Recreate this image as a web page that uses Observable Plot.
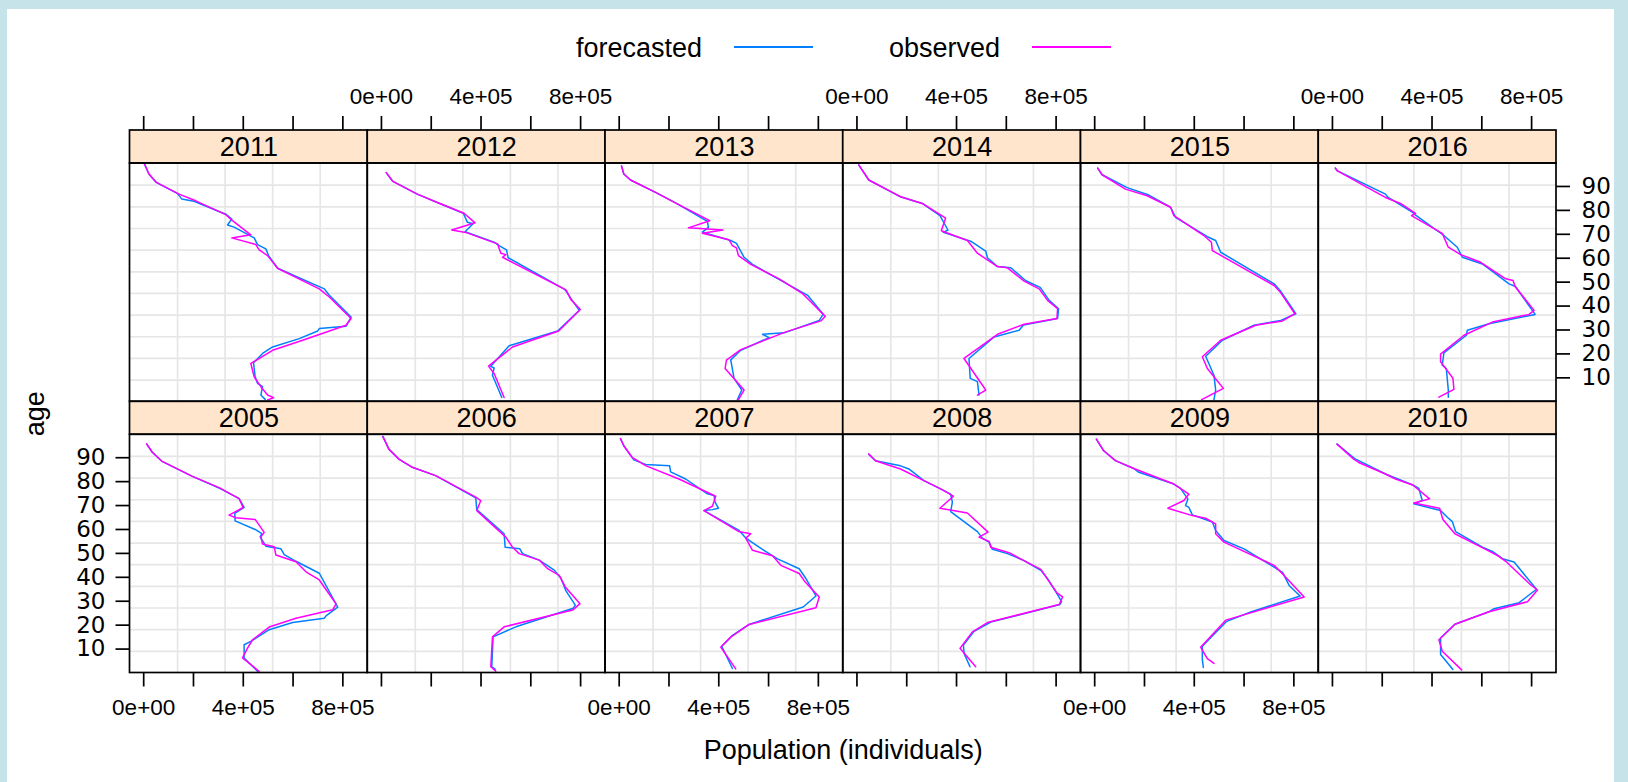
<!DOCTYPE html>
<html>
<head>
<meta charset="utf-8">
<script src="https://cdn.jsdelivr.net/npm/d3@7"></script>
<script src="https://cdn.jsdelivr.net/npm/@observablehq/plot@0.6"></script>
<style>
html, body { margin: 0; padding: 0; }
body { width: 1628px; height: 782px; background: #c5e3e8; position: relative; overflow: hidden;
       font-family: "Liberation Sans", Arial, sans-serif; }
#sheet { position: absolute; left: 7px; top: 9px; width: 1607px; height: 773px; background: #ffffff; }
#chart { position: absolute; left: 0; top: 0; }
.key { position: absolute; font-size: 27px; line-height: 27px; color: #000; white-space: nowrap; }
.keyline { position: absolute; height: 1.7px; width: 79px; }
</style>
</head>
<body>
<div id="sheet"></div>
<div class="key" style="left:576px; top:34.6px">forecasted</div>
<div class="keyline" style="left:734px; top:46px; background:#0080ff"></div>
<div class="key" style="left:889px; top:34.6px">observed</div>
<div class="keyline" style="left:1032px; top:46px; background:#ff00ff"></div>
<div id="chart"></div>
<script>
// ---------------- data (age, population) ----------------
const years = [2005, 2006, 2007, 2008, 2009, 2010, 2011, 2012, 2013, 2014, 2015, 2016];
const xTickValues = [0, 200000, 400000, 600000, 800000];
const xLabelValues = [0, 400000, 800000];
const xLabelTexts = ["0e+00", "4e+05", "8e+05"];
const ageTickValues = [10, 20, 30, 40, 50, 60, 70, 80, 90];
const seriesNames = ["forecasted", "observed"];
const seriesColors = ["#0080ff", "#ff00ff"];

const obs2005 = [[95.8,11700],[92.3,34600],[88.6,72100],[82.2,195700],[77.5,302800],[72.9,383300],[69.2,399400],[66.0,343000],[64.9,370000],[64.2,447700],[58.8,484000],[56.9,470600],[53.9,477500],[52.8,524200],[49.3,531000],[46.5,611600],[42.3,651800],[38.9,705400],[28.9,772600],[26.4,759300],[22.9,611600],[19.2,504100],[13.9,437200],[10.4,417100],[6.3,397000],[0.7,463800]];
const fc2005 = [[95.8,11700],[92.3,34600],[88.6,72100],[82.2,195700],[77.0,310000],[72.9,383300],[69.2,403400],[66.7,366000],[63.6,367200],[60.0,447700],[58.3,474700],[56.9,467900],[53.0,490800],[51.9,551200],[49.5,564500],[46.7,611600],[41.7,705400],[27.5,779400],[23.9,732300],[22.9,725500],[21.1,598300],[18.1,504100],[13.2,430400],[11.8,403400],[6.3,403400],[0.7,457300]];

const obs2006 = [[98.9,5600],[93.6,29800],[89.4,70000],[86.0,124000],[82.5,217800],[73.5,378800],[72.1,399000],[67.9,382900],[56.8,499600],[52.6,526600],[49.9,553200],[47.2,633700],[43.6,667500],[40.8,714200],[36.0,738400],[29.0,797500],[26.3,768200],[19.3,492800],[15.1,446100],[2.6,439200],[0.8,459400]];
const fc2006 = [[98.9,5600],[93.6,29800],[89.4,70000],[86.0,124000],[82.5,217800],[73.2,378800],[68.3,382900],[58.2,492800],[52.6,496800],[51.9,556000],[49.9,566900],[47.2,633700],[43.0,694100],[39.6,721000],[34.3,741200],[28.4,778600],[27.1,770600],[19.3,539900],[15.1,448500],[2.6,443100],[1.6,456500]];

const obs2007 = [[98.0,5200],[95.0,18500],[90.1,52300],[86.7,105900],[81.1,240000],[73.9,387700],[69.7,374400],[67.9,340600],[59.2,479100],[58.2,528600],[56.4,508500],[51.3,535400],[49.0,616000],[45.0,649400],[41.6,723100],[38.0,747200],[31.8,803600],[27.3,790300],[20.3,521800],[15.0,448100],[10.8,407800],[1.7,468200]];
const fc2007 = [[98.0,5200],[95.0,18500],[89.1,58800],[87.2,105900],[86.6,202500],[84.1,206500],[81.1,266900],[74.9,354300],[74.2,380900],[71.4,384900],[68.9,398600],[68.3,374400],[67.9,340600],[59.6,481500],[56.4,508500],[52.6,562000],[47.7,636100],[43.6,723100],[39.5,750000],[32.2,790300],[27.6,739200],[20.3,521800],[15.5,452100],[11.2,411900],[1.9,454900]];

const obs2008 = [[91.5,47500],[88.7,74500],[85.3,175100],[80.4,268900],[77.0,336200],[73.9,387300],[68.9,333400],[66.9,443700],[58.9,526600],[56.8,490400],[55.0,530700],[52.6,537500],[50.3,611200],[47.1,669000],[43.3,738800],[33.5,803200],[31.8,826100],[28.6,812500],[21.1,524200],[17.2,463800],[10.3,413900],[2.6,477100]];
const fc2008 = [[91.5,47500],[88.7,74500],[86.6,175100],[85.3,208500],[80.4,268900],[77.0,336200],[74.8,376400],[71.4,383300],[67.5,376400],[59.1,483900],[56.4,504100],[54.7,530700],[51.7,544300],[49.9,604700],[47.1,669000],[42.9,738800],[39.4,765700],[33.9,799200],[29.8,822100],[28.6,815000],[21.3,537500],[17.4,470400],[11.7,427600],[8.2,430300],[2.6,454100]];

const obs2009 = [[97.8,6800],[92.9,36200],[88.8,83300],[85.5,157000],[79.0,318100],[74.8,378400],[72.1,358300],[68.9,293900],[65.8,392100],[64.7,445700],[62.3,485900],[58.2,485900],[54.7,519400],[45.0,720700],[40.8,760900],[31.8,841400],[22.1,526200],[10.8,425500],[6.0,452500],[4.0,479100]];
const fc2009 = [[97.8,6800],[92.9,36200],[88.8,83300],[85.5,157000],[83.9,177100],[79.0,318100],[77.2,345000],[72.7,374400],[70.0,365100],[69.2,378400],[66.1,392100],[63.1,472600],[59.6,485900],[55.4,519400],[51.9,599900],[42.1,754500],[36.6,781000],[32.2,825300],[25.5,626800],[21.6,530200],[11.2,432400],[5.7,432400],[2.3,436400]];

const obs2010 = [[95.7,18500],[89.4,85400],[88.0,105500],[83.2,213000],[81.1,253200],[78.6,322900],[72.8,390100],[71.1,326900],[68.9,430400],[64.2,443700],[58.2,492000],[51.7,615600],[48.9,666700],[46.7,696100],[36.8,796700],[34.7,823700],[29.8,783500],[25.6,628900],[20.4,492000],[13.9,427600],[9.1,441200],[1.3,518900]];
const fc2010 = [[95.7,18500],[89.6,89400],[83.2,213000],[78.6,322900],[77.2,347000],[72.1,360700],[70.7,326900],[67.9,434400],[65.1,461400],[63.3,481500],[59.1,494800],[52.6,602300],[50.8,642600],[47.8,682800],[46.4,729500],[35.0,819700],[29.4,749700],[26.9,649000],[25.6,628900],[20.4,492000],[14.6,434400],[7.7,434400],[1.5,483900]];

const obs2011 = [[99.3,3600],[95.2,21000],[91.7,50700],[86.8,141700],[84.0,209000],[78.2,329700],[75.7,356700],[69.8,430400],[68.5,353900],[65.7,450500],[63.5,463800],[61.1,497600],[55.8,537900],[47.2,705400],[43.8,745600],[34.8,833000],[32.0,812800],[25.7,638500],[21.5,517700],[16.0,430400],[10.4,443800],[6.3,470600],[2.8,497600],[1.7,521700],[0.8,497600]];
const fc2011 = [[99.3,3600],[95.2,21000],[91.7,50700],[87.1,135200],[84.8,152600],[83.8,202200],[78.4,329700],[76.4,353900],[73.9,336600],[73.0,363200],[68.5,443700],[65.7,457300],[63.9,490800],[61.1,501600],[55.8,537900],[47.2,725500],[44.5,745600],[35.4,833000],[31.6,812800],[30.6,705400],[29.6,698900],[26.4,624900],[22.9,517700],[20.2,477500],[16.3,441200],[10.4,447700],[7.7,457300],[6.3,477500],[2.8,470600],[1.0,488000]];

const obs2012 = [[95.8,19300],[92.1,45900],[86.8,144100],[83.3,224600],[78.8,331700],[74.8,376000],[71.8,282200],[70.8,338600],[66.0,466200],[62.1,479500],[61.5,499600],[60.4,486300],[46.8,741200],[42.7,761300],[38.6,798800],[29.6,711800],[22.9,526600],[14.9,430000],[11.8,452500],[1.8,492800]];
const fc2012 = [[95.8,19300],[92.1,45900],[86.8,144100],[83.3,224600],[78.8,329000],[75.0,345400],[74.4,368000],[71.1,335800],[66.7,452500],[65.3,472700],[63.5,502400],[60.2,508900],[47.1,734300],[46.1,743000],[43.1,761300],[38.2,794700],[29.6,707700],[23.4,513000],[14.8,439200],[14.1,452500],[11.1,445800],[1.8,483500]];

const obs2013 = [[98.6,9300],[95.2,18500],[92.7,45500],[87.5,146100],[82.7,233500],[75.7,363500],[72.7,277800],[71.8,417100],[70.4,334200],[67.7,441200],[65.3,454900],[64.3,471000],[61.1,479100],[57.4,528600],[51.4,642600],[45.2,736800],[42.4,763300],[35.7,827800],[33.8,810400],[29.2,669500],[21.8,488300],[17.4,430800],[13.9,425400],[4.9,501600],[0.9,479100]];
const fc2013 = [[98.6,9300],[95.2,18500],[92.7,45500],[87.5,146100],[82.7,233500],[75.4,354300],[72.9,358300],[70.9,334200],[67.4,448100],[66.2,471000],[60.4,501600],[57.4,535400],[44.5,756900],[36.6,819700],[34.0,803600],[28.8,662700],[28.2,575700],[26.8,602300],[21.5,488300],[17.5,448100],[9.8,461400],[4.9,492400],[0.9,474700]];

const obs2014 = [[99.0,7200],[92.7,47600],[87.5,141700],[85.7,175100],[82.9,262400],[76.8,356300],[71.5,338900],[67.4,443700],[62.1,483900],[56.5,564500],[56.0,604700],[50.4,671500],[47.2,732000],[42.4,765700],[38.9,805900],[34.8,803200],[32.4,671500],[28.2,564500],[18.1,430000],[4.9,517300],[2.8,483900]];
const fc2014 = [[99.0,7200],[92.7,47600],[87.5,141700],[85.7,175100],[82.9,262400],[77.8,333400],[71.8,365600],[70.8,347000],[67.1,456900],[63.0,517300],[60.2,524200],[56.5,564500],[56.0,618000],[50.6,678400],[47.8,736000],[42.4,772200],[38.9,810000],[34.8,806000],[32.1,669000],[29.9,651500],[27.1,550800],[18.1,450000],[9.8,455000],[8.4,483900],[2.8,490400]];

const obs2015 = [[97.7,12100],[94.9,29800],[88.9,123600],[86.1,211000],[81.3,304800],[77.8,318100],[69.5,438800],[66.7,468600],[63.2,472600],[48.6,720700],[45.9,744800],[36.8,804000],[33.8,754500],[32.0,647000],[25.7,506100],[18.8,432400],[13.9,452500],[10.8,476700],[5.6,516900],[0.9,429600]];
const fc2015 = [[97.7,12100],[94.9,29800],[89.5,130400],[86.4,217400],[81.3,304800],[77.1,324900],[69.0,452500],[67.4,485900],[62.5,506100],[49.3,720700],[46.5,744800],[36.8,808000],[34.0,747600],[32.0,640100],[25.7,512900],[19.0,445700],[11.1,479100],[4.9,485900],[0.9,479100]];

const obs2016 = [[97.7,11700],[96.6,18500],[89.6,139300],[85.4,213000],[82.9,273400],[78.8,333800],[77.8,317600],[70.4,441200],[64.6,465400],[61.5,514900],[58.3,595400],[51.4,696100],[50.7,725500],[48.2,733500],[38.2,810000],[36.5,789900],[33.3,642600],[27.8,528200],[19.9,434400],[16.7,434400],[13.0,461400],[9.8,483900],[5.2,488000],[1.9,427600]];
const fc2016 = [[97.7,11700],[96.6,18500],[86.8,213000],[85.4,223800],[79.3,320500],[78.3,330000],[69.5,447700],[64.6,501600],[60.4,521800],[57.6,602300],[49.3,709400],[48.2,735000],[36.5,814100],[32.6,628900],[29.9,541900],[27.8,537900],[20.4,447700],[15.3,441200],[13.9,457300],[4.9,465400],[1.9,465400]];

// ---------------- assemble ----------------
const forecastedSeries = [fc2005, fc2006, fc2007, fc2008, fc2009, fc2010, fc2011, fc2012, fc2013, fc2014, fc2015, fc2016];
const observedSeries = [obs2005, obs2006, obs2007, obs2008, obs2009, obs2010, obs2011, obs2012, obs2013, obs2014, obs2015, obs2016];

const panels = years.map(year => ({year, col: (year - 2005) % 6, row: year >= 2011 ? 0 : 1}));
const rows = [];
years.forEach((year, i) => {
  const p = panels[i];
  [forecastedSeries[i], observedSeries[i]].forEach((arr, s) => {
    arr.forEach(([age, pop]) => rows.push({year, col: p.col, row: p.row, series: seriesNames[s], age, pop}));
  });
});

// layout
const W = 1628, H = 782;
const mL = 129.5, mR = 72, mT = 130, mB = 109.5;
const xDomain = [-55000, 900000];
const panelTopAge = 99.6;
const facetW = (W - mL - mR) / 6;
const facetH = (H - mT - mB) / 2;
const stripPx = 33;
const stripTop = panelTopAge * facetH / (facetH - stripPx);
const xPerPx = (xDomain[1] - xDomain[0]) / facetW;
const yPerPx = stripTop / facetH;
const tickLen = 14;
const xMid = (xDomain[0] + xDomain[1]) / 2;

const gridX = [1, 2, 3, 4].map(k => xDomain[0] + k * (xDomain[1] - xDomain[0]) / 5);
const gridY = [1, 2, 3, 4, 5, 6, 7, 8, 9, 10].map(k => k * panelTopAge / 11);

const cols = [0, 1, 2, 3, 4, 5];
const topTicks = cols.flatMap(c => xTickValues.map(v => ({col: c, row: 0, v})));
const bottomTicks = cols.flatMap(c => xTickValues.map(v => ({col: c, row: 1, v})));
const topLabels = [1, 3, 5].flatMap(c => xLabelValues.map((v, i) => ({col: c, row: 0, v, label: xLabelTexts[i]})));
const bottomLabels = [0, 2, 4].flatMap(c => xLabelValues.map((v, i) => ({col: c, row: 1, v, label: xLabelTexts[i]})));
const leftTicks = ageTickValues.map(v => ({col: 0, row: 1, v}));
const rightTicks = ageTickValues.map(v => ({col: 5, row: 0, v}));

const tickFont = 22.5;
const ageFont = 23;
const ageFamily = "'DejaVu Sans', 'Liberation Sans', Arial, sans-serif";
const black = "#000000";

const chart = Plot.plot({
  width: W, height: H,
  marginLeft: mL, marginRight: mR, marginTop: mT, marginBottom: mB,
  style: {background: "transparent", fontFamily: "'Liberation Sans', Arial, sans-serif", overflow: "visible", color: "#000"},
  fx: {domain: cols, padding: 0, round: false, axis: null},
  fy: {domain: [0, 1], padding: 0, round: false, axis: null},
  x: {domain: xDomain, axis: null},
  y: {domain: [0, stripTop], axis: null},
  marks: [
    // grid
    Plot.ruleX(gridX, {x: d => d, y1: 0, y2: panelTopAge, stroke: "#e6e6e6", strokeWidth: 1.7}),
    Plot.ruleY(gridY, {y: d => d, x1: xDomain[0], x2: xDomain[1], stroke: "#e6e6e6", strokeWidth: 1.7}),
    // data lines
    Plot.line(rows.filter(d => d.series === "forecasted"), {x: "pop", y: "age", z: "year", fx: "col", fy: "row", stroke: seriesColors[0], strokeWidth: 1.5}),
    Plot.line(rows.filter(d => d.series === "observed"), {x: "pop", y: "age", z: "year", fx: "col", fy: "row", stroke: seriesColors[1], strokeWidth: 1.5}),
    // strips
    Plot.rect([0], {x1: xDomain[0], x2: xDomain[1], y1: panelTopAge, y2: stripTop, fill: "#ffe5cc", stroke: black, strokeWidth: 1.7}),
    Plot.text(panels, {x: xMid, y: (panelTopAge + stripTop) / 2, text: d => String(d.year), fx: "col", fy: "row", fontSize: 27, fill: black}),
    // panel frame
    Plot.rect([0], {x1: xDomain[0], x2: xDomain[1], y1: 0, y2: panelTopAge, fill: "none", stroke: black, strokeWidth: 1.7}),
    // x axis ticks + labels
    Plot.ruleX(topTicks, {x: "v", y1: stripTop, y2: stripTop + tickLen * yPerPx, fx: "col", fy: "row", stroke: black, strokeWidth: 1.7}),
    Plot.ruleX(bottomTicks, {x: "v", y1: 0, y2: -tickLen * yPerPx, fx: "col", fy: "row", stroke: black, strokeWidth: 1.7}),
    Plot.text(topLabels, {x: "v", y: stripTop, dy: -34, text: "label", fx: "col", fy: "row", fontSize: tickFont, fill: black}),
    Plot.text(bottomLabels, {x: "v", y: 0, dy: 34.5, text: "label", fx: "col", fy: "row", fontSize: tickFont, fill: black}),
    // y axis ticks + labels
    Plot.ruleY(leftTicks, {y: "v", x1: xDomain[0], x2: xDomain[0] - tickLen * xPerPx, fx: "col", fy: "row", stroke: black, strokeWidth: 1.7}),
    Plot.text(leftTicks, {y: "v", x: xDomain[0], dx: -24.5, text: d => String(d.v), textAnchor: "end", fx: "col", fy: "row", fontSize: ageFont, fontFamily: ageFamily, fill: black}),
    Plot.ruleY(rightTicks, {y: "v", x1: xDomain[1], x2: xDomain[1] + tickLen * xPerPx, fx: "col", fy: "row", stroke: black, strokeWidth: 1.7}),
    Plot.text(rightTicks, {y: "v", x: xDomain[1], dx: 25, text: d => String(d.v), textAnchor: "start", fx: "col", fy: "row", fontSize: ageFont, fontFamily: ageFamily, fill: black}),
    // axis titles
    Plot.text(["Population (individuals)"], {text: d => d, fx: () => 2, fy: () => 1, x: xDomain[1], y: 0, dy: 77.5, fontSize: 27, fill: black}),
    Plot.text(["age"], {text: d => d, fx: () => 0, fy: () => 0, x: xDomain[0], y: 0, dx: -95, dy: 12, rotate: -90, fontSize: 27, fill: black})
  ]
});
document.getElementById("chart").appendChild(chart);
</script>
</body>
</html>
